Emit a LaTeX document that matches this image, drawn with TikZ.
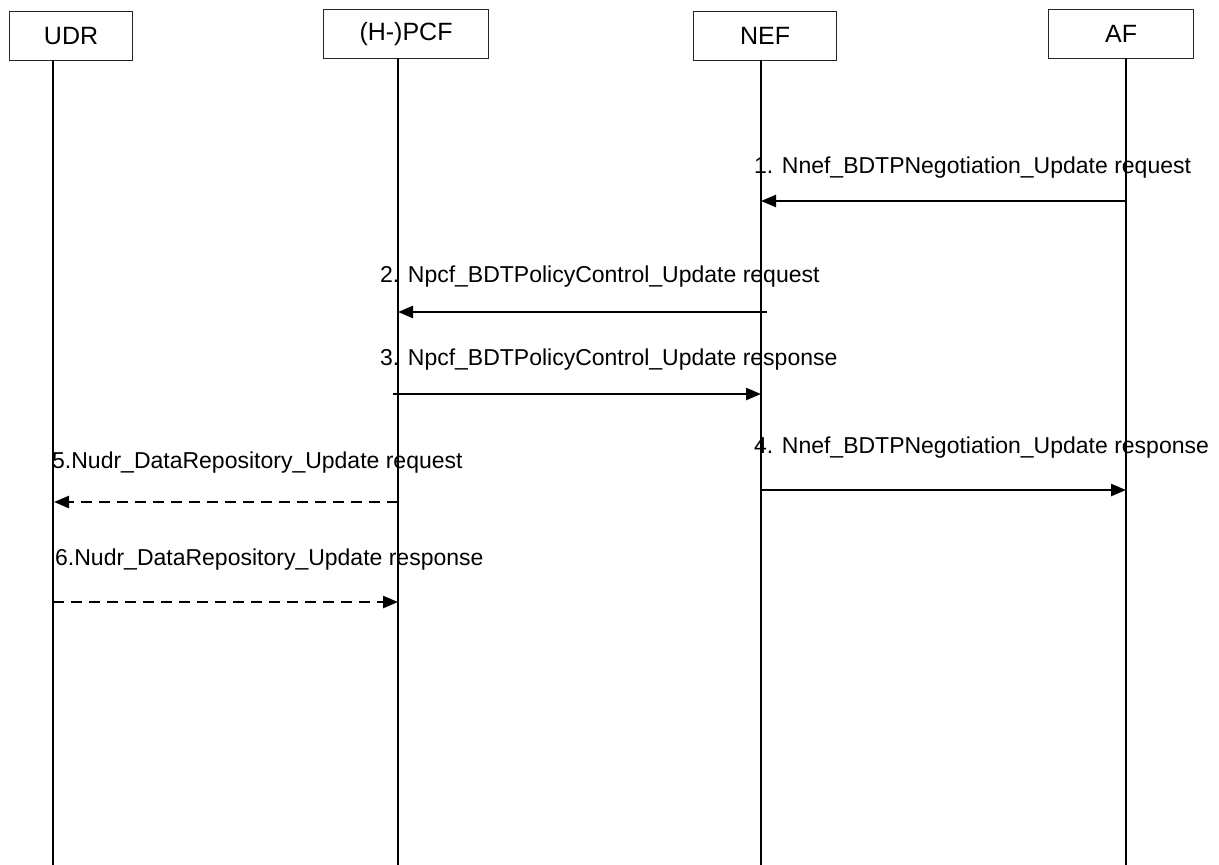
\documentclass[tikz,border=0pt]{standalone}
\usepackage{fontspec}
\setmainfont{Liberation Sans}
\usetikzlibrary{arrows.meta}
\begin{document}
\begin{tikzpicture}[x=1pt,y=-1pt,
  entity/.style={draw=black!85,line width=1.1pt,inner sep=0pt,anchor=north west,font=\fontsize{25}{30}\selectfont},
  lifeline/.style={line width=1.4pt},
  msg/.style={line width=2.4pt,-{Triangle[length=15pt,width=12pt]}},
  dmsg/.style={msg,dash pattern=on 11pt off 7pt},
  lbl/.style={anchor=base west,inner sep=0pt,font=\fontsize{23}{27}\selectfont}]
\useasboundingbox (0,0) rectangle (1219,865);
% entity boxes
\node[entity,minimum width=123pt,minimum height=49pt] (udr) at (9,11) {UDR};
\node[entity,minimum width=165pt,minimum height=49pt] (pcf) at (323,9) {(H-)PCF};
\node[entity,minimum width=143pt,minimum height=49pt] (nef) at (693,11) {NEF};
\node[entity,minimum width=145pt,minimum height=49pt] (af) at (1048,9) {AF};
% lifelines
\coordinate (udrT) at (53,60);   \coordinate (udrB) at (53,865);
\coordinate (pcfT) at (398,58);  \coordinate (pcfB) at (398,865);
\coordinate (nefT) at (761,60);  \coordinate (nefB) at (761,865);
\coordinate (afT) at (1126,58);  \coordinate (afB) at (1126,865);
\draw[lifeline] (udrT) -- (udrB);
\draw[lifeline] (pcfT) -- (pcfB);
\draw[lifeline] (nefT) -- (nefB);
\draw[lifeline] (afT) -- (afB);
% message end points
\coordinate (m1a) at (1126,201); \coordinate (m1b) at (761,201);
\coordinate (m2a) at (767,312);  \coordinate (m2b) at (398,312);
\coordinate (m3a) at (393,394);  \coordinate (m3b) at (761,394);
\coordinate (m4a) at (761,490);  \coordinate (m4b) at (1126,490);
\coordinate (m5a) at (398,502);  \coordinate (m5b) at (54,502);
\coordinate (m6a) at (53,602);   \coordinate (m6b) at (398,602);
% labels
\node[lbl] (l1) at (754,173) {1. Nnef\_BDTPNegotiation\_Update request};
\node[lbl] (l2) at (380,282) {2. Npcf\_BDTPolicyControl\_Update request};
\node[lbl] (l3) at (380,365) {3. Npcf\_BDTPolicyControl\_Update response};
\node[lbl] (l4) at (754,453) {4. Nnef\_BDTPNegotiation\_Update response};
\node[lbl] (l5) at (52,468) {5.Nudr\_DataRepository\_Update request};
\node[lbl] (l6) at (55,565) {6.Nudr\_DataRepository\_Update response};
% messages
\draw[msg] (m1a) -- (m1b);
\draw[msg] (m2a) -- (m2b);
\draw[msg] (m3a) -- (m3b);
\draw[msg] (m4a) -- (m4b);
\draw[dmsg] (m5a) -- (m5b);
\draw[dmsg] (m6a) -- (m6b);
\end{tikzpicture}
\end{document}
